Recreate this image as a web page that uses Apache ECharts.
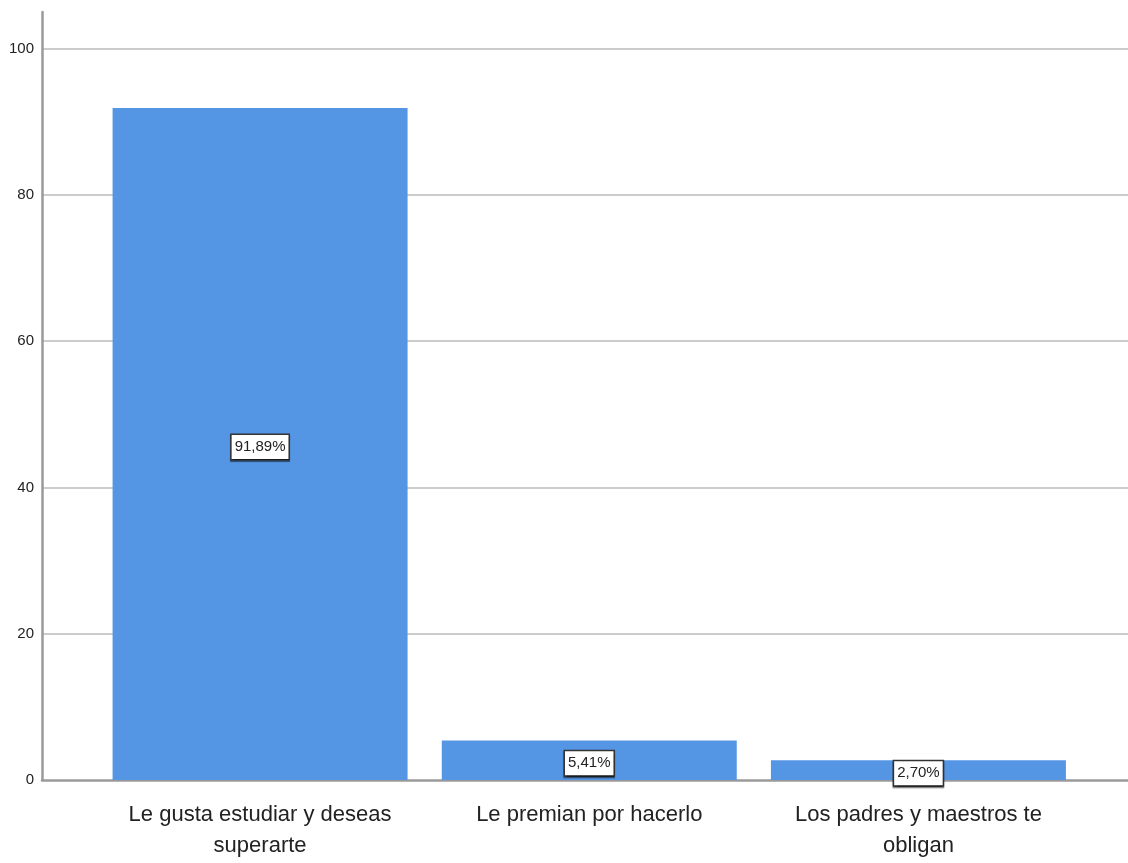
<!DOCTYPE html>
<html>
<head>
<meta charset="utf-8">
<script src="https://cdn.jsdelivr.net/npm/echarts@6/dist/echarts.min.js"></script>
<style>html,body{margin:0;padding:0;background:#fff;}#c{width:1128px;height:863px;}</style>
</head>
<body>
<div id="c"></div>
<script>
const categories = ["Le gusta estudiar y deseas\nsuperarte", "Le premian por hacerlo", "Los padres y maestros te\nobligan"];
const values = [91.89, 5.41, 2.70];
const labels = ["91,89%", "5,41%", "2,70%"];
const yTicks = [0, 20, 40, 60, 80, 100];

const FONT = '"Liberation Sans Narrow", "Arial Narrow", "Liberation Sans", sans-serif';
const chart = echarts.init(document.getElementById('c'), null, {renderer: 'canvas'});
chart.setOption({
  animation: false,
  backgroundColor: '#ffffff',
  grid: [
    {left: 42, right: 0, top: 12, bottom: 83, containLabel: false},
    {left: 95.5, right: 45, top: 12, bottom: 83, containLabel: false}
  ],
  xAxis: [
    {type: 'value', gridIndex: 0, min: 0, max: 1, show: true,
     axisLine: {show: true, onZero: false, lineStyle: {color: '#9a9a9a', width: 2.5}},
     axisTick: {show: false}, axisLabel: {show: false}, splitLine: {show: false}},
    {type: 'category', gridIndex: 1, data: categories,
     axisLine: {show: false}, axisTick: {show: false},
     axisLabel: {color: '#222', fontFamily: FONT, fontSize: 22, lineHeight: 31, margin: 19, interval: 0}}
  ],
  yAxis: [
    {type: 'value', gridIndex: 0, min: 0, max: 105, interval: 20,
     axisLine: {show: true, lineStyle: {color: '#9a9a9a', width: 2.5}},
     axisTick: {show: false},
     axisLabel: {color: '#222', fontFamily: FONT, fontSize: 15, margin: 8, showMaxLabel: false,
       formatter: v => yTicks.includes(v) ? String(v) : ''},
     splitLine: {show: true, showMaxLine: false, showMinLine: false, lineStyle: {color: '#cccccc', width: 2}}},
    {type: 'value', gridIndex: 1, min: 0, max: 105, show: false, splitLine: {show: false}}
  ],
  series: [{
    type: 'bar', xAxisIndex: 1, yAxisIndex: 1,
    data: values, barWidth: 295,
    itemStyle: {color: '#5596e4'},
    label: {
      show: true, position: 'inside', offset: [0, 3],
      formatter: p => labels[p.dataIndex],
      color: '#222', fontFamily: FONT, fontSize: 15,
      backgroundColor: '#ffffff', borderColor: '#333', borderWidth: 1.5,
      padding: [5, 3, 4, 3],
      shadowColor: 'rgba(0,0,0,0.5)', shadowOffsetY: 1.5, shadowBlur: 1
    }
  }]
});
</script>
</body>
</html>
